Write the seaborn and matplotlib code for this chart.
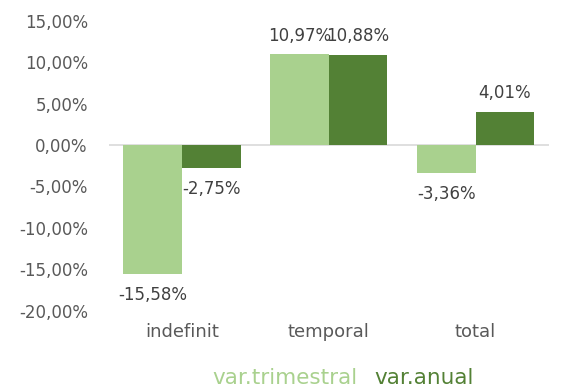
import matplotlib
matplotlib.use("Agg")
import matplotlib.pyplot as plt
import seaborn as sns
import pandas as pd

categories = ["indefinit", "temporal", "total"]
var_trimestral = [-15.58, 10.97, -3.36]
var_anual = [-2.75, 10.88, 4.01]
series_names = ["var.trimestral", "var.anual"]
y_ticks = [-20, -15, -10, -5, 0, 5, 10, 15]

colors = ["#a9d18e", "#538135"]

df = pd.DataFrame({
    "categoria": categories * 2,
    "serie": [series_names[0]] * 3 + [series_names[1]] * 3,
    "valor": var_trimestral + var_anual,
})

sns.set_theme(style="white")
plt.rcParams["font.family"] = ["DejaVu Sans"]

fig = plt.figure(figsize=(5.63, 3.88), dpi=100)
ax = fig.add_axes([0.193, 0.1995, 0.782, 0.7465])

sns.barplot(data=df, x="categoria", y="valor", hue="serie", palette=colors,
            width=0.8, ax=ax, errorbar=None, saturation=1, linewidth=0)

ax.set_ylim(-20, 15)
ax.set_xlim(-0.5, 2.5)
ax.set_yticks(y_ticks)
ax.set_yticklabels([f"{v:.2f}".replace(".", ",") + "%" for v in y_ticks])
ax.set_xlabel("")
ax.set_ylabel("")
for s in ax.spines.values():
    s.set_visible(False)
ax.axhline(0, color="#d9d9d9", linewidth=1.2, zorder=0.5)
ax.tick_params(axis="y", length=0, pad=15, labelsize=12, labelcolor="#595959")
ax.tick_params(axis="x", length=0, pad=9, labelsize=13, labelcolor="#595959")

fmt = lambda v: f"{v:.2f}".replace(".", ",") + "%"
for cont in ax.containers:
    for bar in cont:
        h = bar.get_height()
        x = bar.get_x() + bar.get_width() / 2
        if h >= 0:
            ax.annotate(fmt(h), (x, h), xytext=(0, 7), textcoords="offset points",
                        ha="center", va="bottom", fontsize=12, color="#404040")
        else:
            ax.annotate(fmt(h), (x, h), xytext=(0, -8.5), textcoords="offset points",
                        ha="center", va="top", fontsize=12, color="#404040")

leg = ax.legend(loc="center", bbox_to_anchor=(0.532, -0.233), ncol=2, frameon=False,
                handlelength=0, handletextpad=0, columnspacing=0.8, fontsize=15.5,
                bbox_transform=ax.transAxes, borderpad=0)
for h in leg.legend_handles:
    h.set_visible(False)
for t, c in zip(leg.get_texts(), colors):
    t.set_color(c)

fig.savefig("out.png", dpi=100)
